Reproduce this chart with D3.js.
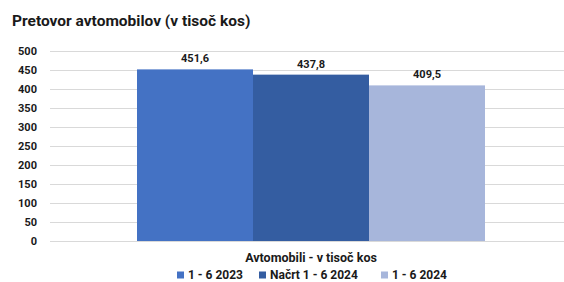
<!DOCTYPE html>
<html>
<head>
<meta charset="utf-8">
<script src="https://cdn.jsdelivr.net/npm/d3@7"></script>
<style>
  body { margin: 0; background: #fff; }
  text { font-family: Roboto, "DejaVu Sans", sans-serif; fill: #1a1a1a; }
</style>
</head>
<body>
<div id="chart"></div>
<script>
// chart data
let categories = ["Avtomobili - v tisoč kos"];
let seriesNames = ["1 - 6 2023", "Načrt 1 - 6 2024", "1 - 6 2024"];
let seriesValues = [451.6, 437.8, 409.5];
let seriesColors = ["#4472C4", "#345DA1", "#A7B6DB"];
let yTicks = [0, 50, 100, 150, 200, 250, 300, 350, 400, 450, 500];

let width = 564, height = 282;
let margin = {top: 51, right: -8, bottom: 41, left: 50};

let svg = d3.select("#chart").append("svg")
    .attr("width", width)
    .attr("height", height);

//Title
svg.append("text")
    .attr("x", 12)
    .attr("y", 26)
    .attr("font-size", 15.5)
    .attr("font-weight", "bold")
    .text("Pretovor avtomobilov (v tisoč kos)");

let y = d3.scaleLinear()
    .domain([0, 500])
    .range([height - margin.bottom, margin.top]);

let x0 = d3.scaleBand()
    .domain(categories)
    .range([margin.left, width - margin.right])
    .paddingOuter(0.25);

let x1 = d3.scaleBand()
    .domain(seriesNames)
    .range([0, x0.bandwidth()]);

//Grid lines + tick labels
let yAxis = svg.append("g")
    .attr("transform", "translate(" + margin.left + ",0)")
    .call(d3.axisLeft(y).tickValues(yTicks).tickSize(-(width - margin.left - margin.right)).tickPadding(13));
yAxis.select(".domain").remove();
yAxis.selectAll(".tick line").attr("stroke", "#d9d9d9");
yAxis.selectAll(".tick text")
    .attr("font-size", 11)
    .attr("font-weight", "bold")
    .attr("fill", "#1a1a1a");

//Bars
let group = svg.append("g")
    .attr("transform", "translate(" + x0(categories[0]) + ",0)");

group.selectAll("rect")
    .data(seriesValues)
    .enter().append("rect")
    .attr("x", (d, i) => x1(seriesNames[i]))
    .attr("y", d => y(d))
    .attr("width", x1.bandwidth())
    .attr("height", d => y(0) - y(d))
    .attr("fill", (d, i) => seriesColors[i]);

group.selectAll("text.val")
    .data(seriesValues)
    .enter().append("text")
    .attr("class", "val")
    .attr("x", (d, i) => x1(seriesNames[i]) + x1.bandwidth() / 2)
    .attr("y", d => y(d) - 7)
    .attr("text-anchor", "middle")
    .attr("font-size", 11)
    .attr("font-weight", "bold")
    .text(d => d3.format(".1f")(d).replace(".", ","));

//Category label
svg.append("text")
    .attr("x", x0(categories[0]) + x0.bandwidth() / 2)
    .attr("y", 262)
    .attr("text-anchor", "middle")
    .attr("font-size", 12.5)
    .attr("font-weight", "bold")
    .text(categories[0]);

//Legend
let legendX = [177, 259, 381];
let legend = svg.append("g");
seriesNames.forEach(function(name, i) {
    legend.append("rect")
        .attr("x", legendX[i])
        .attr("y", 271.5)
        .attr("width", 7)
        .attr("height", 7)
        .attr("fill", seriesColors[i]);
    legend.append("text")
        .attr("x", legendX[i] + 11)
        .attr("y", 279)
        .attr("font-size", 12)
        .attr("font-weight", "bold")
        .text(name);
});
</script>
</body>
</html>
